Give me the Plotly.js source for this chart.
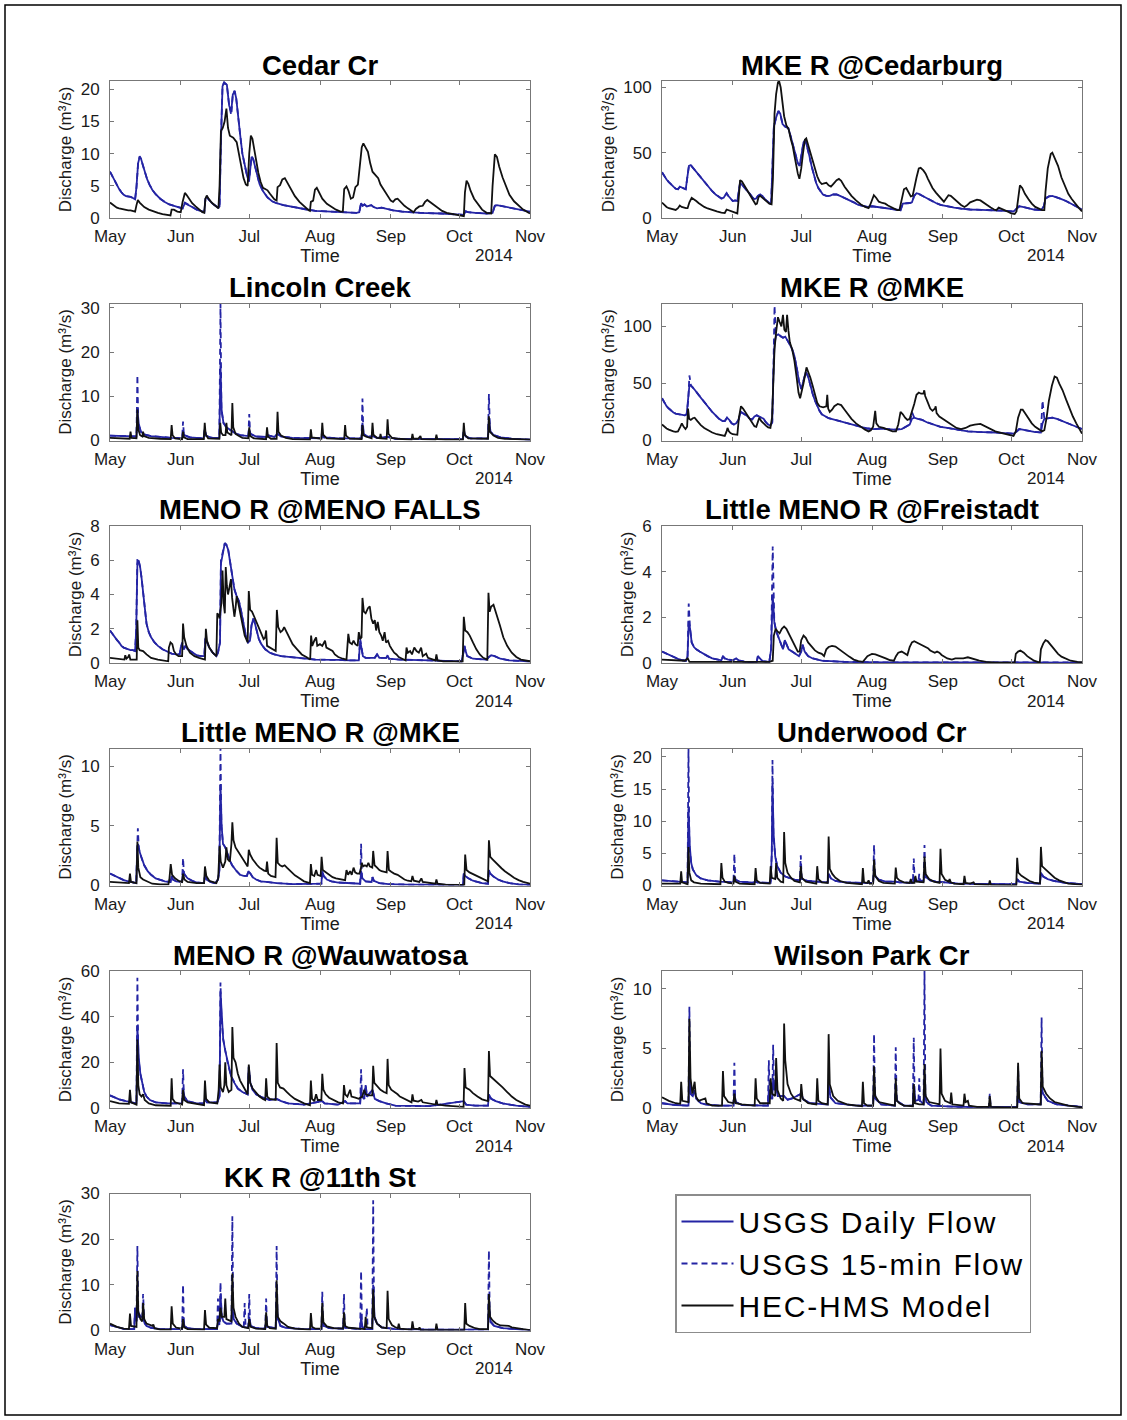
<!DOCTYPE html>
<html>
<head>
<meta charset="utf-8">
<script src="https://cdn.plot.ly/plotly-3.0.1.min.js"></script>
<style>html,body{margin:0;padding:0;background:#fff;}#chart{width:1127px;height:1420px;}
.legendtext{letter-spacing:1.8px;}</style>
</head>
<body>
<div id="chart"></div>
<script>
// ---------- DATA (day since 1 May 2014, discharge m3/s) ----------
const monthLabels = ['May','Jun','Jul','Aug','Sep','Oct','Nov'];
const monthStartDays = [0,31,61,92,123,153,184];
const stationNames = ['Cedar Cr','MKE R @Cedarburg','Lincoln Creek','MKE R @MKE','MENO R @MENO FALLS','Little MENO R @Freistadt','Little MENO R @MKE','Underwood Cr','MENO R @Wauwatosa','Wilson Park Cr','KK R @11th St'];
const yMax = [21.3,105,31,120,8,6,11.5,21.3,60,11.5,30];
const yTickStep = [5,50,10,50,2,2,5,5,20,5,10];
const seriesNames = ['USGS Daily Flow','USGS 15-min Flow','HEC-HMS Model'];

const cedarDaily = [[0,7.2],[1,6.5],[2,5.8],[3,5.2],[4,4.5],[5,4.0],[6,3.6],[7,3.4],[8,3.4],[9,3.3],[10,3.1],[11,2.9],[11.6,4.8],[12.3,8.5],[13,9.5],[13.6,9.2],[14.4,8.2],[15.3,7.0],[16.3,6.0],[17.3,5.2],[18.5,4.4],[20,3.7],[22,3.0],[24,2.5],[26,2.1],[28,1.9],[30,1.7],[31.8,1.5],[32.8,2.3],[34,2.1],[36,1.7],[38,1.3],[40,1.0],[41.3,0.9],[41.8,3.0],[42.4,3.3],[43.2,2.9],[45,2.2],[47.5,1.6],[48,1.8],[48.6,12],[49.3,20.5],[50,21],[51.2,20.7],[52.2,17.5],[53.1,16.5],[53.8,19.2],[54.6,19.7],[55.3,18.6],[56,16],[57,13],[58,10],[59,8],[60,6.6],[60.9,5.7],[61.3,7],[62,9.5],[62.7,9.2],[63.5,8],[64.5,6.5],[65.5,5.3],[67,4.2],[69,3.2],[71,2.6],[73,2.3],[76,2.0],[80,1.7],[85,1.4],[90,1.1],[95,1.0],[100,0.9],[105,0.8],[108,0.8],[109.2,0.9],[110,2.3],[110.7,1.9],[111.5,2.1],[112.5,1.8],[113.5,1.9],[114.5,2.0],[115.5,1.7],[117,1.5],[119,1.6],[121,1.4],[124,1.2],[128,1.0],[132,0.9],[136,0.8],[145,0.7],[150,0.6],[155,0.5],[155.8,1.0],[156.8,0.9],[160,0.8],[165,0.7],[167.6,0.8],[168.6,1.9],[169.5,2.0],[171,1.9],[174,1.6],[177,1.4],[180,1.2],[184,1.0]];
const cedarQ15 = [[0,7.2],[1,6.5],[2,5.8],[3,5.2],[4,4.5],[5,4.0],[6,3.6],[7,3.4],[8,3.4],[9,3.3],[10,3.1],[11,2.9],[11.6,4.8],[12.3,8.5],[13,9.6],[13.6,9.2],[14.4,8.2],[15.3,7.0],[16.3,6.0],[17.3,5.2],[18.5,4.4],[20,3.7],[22,3.0],[24,2.5],[26,2.1],[28,1.9],[30,1.7],[31.8,1.5],[32.8,2.4],[34,2.1],[36,1.7],[38,1.3],[40,1.0],[41.3,0.9],[41.8,3.0],[42.4,3.4],[43.2,2.9],[45,2.2],[47.5,1.6],[48,1.8],[48.6,12],[49.3,20.6],[50,21.1],[51.2,20.7],[52.2,17.5],[53.1,16.0],[53.8,19.2],[54.6,19.8],[55.3,18.6],[56,16],[57,13],[58,10],[59,8],[60,6.6],[60.9,5.7],[61.3,7],[62,9.6],[62.7,9.2],[63.5,8],[64.5,6.5],[65.5,5.3],[67,4.2],[69,3.2],[71,2.6],[73,2.3],[76,2.0],[80,1.7],[85,1.4],[90,1.1],[95,1.0],[100,0.9],[105,0.8],[108,0.8],[109.2,0.9],[110,2.4],[110.7,1.9],[111.5,2.1],[112.5,1.8],[113.5,1.9],[114.5,2.0],[115.5,1.7],[117,1.5],[119,1.6],[121,1.4],[124,1.2],[128,1.0],[132,0.9],[136,0.8],[145,0.7],[150,0.6],[155,0.5],[155.8,1.1],[156.8,0.9],[160,0.8],[165,0.7],[167.6,0.8],[168.6,1.9],[169.5,2.0],[171,1.9],[174,1.6],[177,1.4],[180,1.2],[184,1.0]];
const cedarModel = [[0,2.4],[1,2.1],[2,1.8],[3,1.6],[4,1.5],[5,1.4],[6,1.3],[7,1.3],[8,1.2],[9,1.2],[10,1.1],[11,1.0],[11.6,2.0],[12.2,2.8],[13,2.4],[14,2.0],[15,1.7],[17,1.3],[19,1.0],[21,0.8],[23,0.6],[25,0.5],[26.5,0.4],[27,1.3],[28,1.3],[29.5,1.0],[31,0.9],[31.8,2.5],[32.8,3.9],[33.5,3.6],[34.5,3.0],[36,2.3],[37.5,1.8],[39,1.3],[40.5,0.9],[41.3,0.8],[41.8,3.0],[42.4,3.5],[43,3.1],[44.5,2.4],[46,1.9],[47.5,1.5],[48,5],[48.6,13.5],[49.4,14],[50.2,15],[51,17],[51.7,14],[52.5,12.8],[54,12.5],[55.5,11.8],[56.5,10],[57.5,8],[58.5,6.2],[59.5,5.2],[60.3,5],[61,10],[61.7,12.8],[62.4,12.3],[63.2,10.5],[64,8.5],[65,7],[66,5.6],[67,4.7],[68,4.5],[69,4.3],[70,3.8],[71,3.3],[72,2.9],[73,2.7],[73.4,4.8],[74.5,5.1],[75.5,6.0],[76.6,6.2],[77.5,5.6],[79,4.5],[81,3.4],[83,2.5],[85,1.8],[87,1.2],[87.6,1.1],[88,2.5],[89,2.7],[89.8,4.4],[90.6,4.7],[91.5,4.0],[93,3.0],[95,2.2],[97,1.7],[99,1.3],[101,1.0],[102,1.0],[102.6,4.5],[103.6,4.9],[104.5,4.2],[105.5,3.0],[106.5,3.2],[107.5,4.8],[108.6,5.2],[109.5,8.5],[110.3,11],[111,11.6],[112,11],[113,10.3],[114,8.5],[115,7.2],[116.5,6.6],[117.5,6.2],[118.5,5.2],[120,4.3],[121.5,3.4],[123,2.7],[124,2.5],[125,2.9],[126,3.0],[127.5,2.4],[129,1.9],[130.5,1.5],[132,1.1],[133,0.9],[134,1.4],[135.5,1.8],[137,1.9],[138,2.5],[139,2.8],[140.5,2.4],[142,2.0],[143.5,1.5],[145.5,1.1],[147.5,0.8],[150,0.6],[153,0.4],[155,0.3],[155.5,4],[156.2,5.8],[157,5.3],[158,4.2],[159.5,3.0],[161,2.2],[163,1.3],[165,0.8],[167,0.7],[167.6,5],[168.6,9.9],[169.5,9.5],[170.5,8],[172,6.3],[173.5,4.8],[175,3.6],[177,2.6],[179,1.9],[181,1.3],[183,0.9],[184,0.7]];

const cedarburgDaily = [[0,35],[1,32],[2,29.5],[3,27.5],[4,25.5],[5,24],[6,22.5],[7,22],[7.8,24],[8.6,23.5],[9.6,22.5],[10.4,22],[11,30],[11.8,40],[12.6,40.5],[13.5,38.5],[14.5,36.5],[16,33.5],[17.5,30],[19,26.5],[20.5,23.5],[22,20.5],[23.5,18],[25,16],[26,15],[27,15.5],[28.3,19],[29,17],[30,14.5],[31,13],[32,13.5],[33,13],[33.6,20],[34.2,27],[35,25.5],[36.3,23],[37.5,21],[38.5,18.5],[39.5,16],[40.5,14.5],[41.3,15],[42,17],[43,18],[44,17],[45,14.5],[46,13],[47,11.5],[47.8,10.5],[48.4,40],[49,70],[50,77],[51,82],[51.8,80],[52.8,72],[54,70],[55.3,69],[56.3,63],[57.5,55],[58.5,48],[59.5,42],[60.3,40],[61,48],[62,58],[62.8,60],[63.6,55],[64.5,48],[65.5,40],[66.5,33],[67.5,27],[68.5,23],[69.5,20],[70.5,18],[72,17],[73.5,17],[75,18],[76.5,18],[78,17],[80,15.5],[82,14],[84,12],[86,10],[88,9],[90,8.5],[92,9],[94,8.5],[97,8],[100,7],[103,6],[104.5,6],[105.5,11],[107,11],[108.5,11.5],[109.5,12],[110.5,17],[111.5,19],[112.5,18.5],[114,17],[116,15],[118,13],[120,11.5],[122,10],[125,8.8],[128,8],[131,7.2],[135,6.5],[140,6.3],[146,6],[150,5.5],[154,5],[155.5,7],[156.5,9],[158,8.5],[160,7.5],[163,6.5],[166,6],[167.3,9],[168,15],[169.5,16.5],[171,17],[173,16],[175,14.5],[177,13],[179,11],[181,9],[184,6.5]];
const cedarburgQ15 = [[0,35],[1,32],[2,29.5],[3,27.5],[4,25.5],[5,24],[6,22.5],[7,22],[7.8,24],[8.6,23.5],[9.6,22.5],[10.4,22],[11,30],[11.8,40],[12.6,40.5],[13.5,38.5],[14.5,36.5],[16,33.5],[17.5,30],[19,26.5],[20.5,23.5],[22,20.5],[23.5,18],[25,16],[26,15],[27,15.5],[28.3,19],[29,17],[30,14.5],[31,13],[32,13.5],[33,13],[33.6,20],[34.2,27],[35,25.5],[36.3,23],[37.5,21],[38.5,18.5],[39.5,16],[40.5,14.5],[41.3,15],[42,17],[43,18],[44,17],[45,14.5],[46,13],[47,11.5],[47.8,10.5],[48.4,40],[49,70],[50,77],[51,82],[51.8,80],[52.8,72],[54,70],[55.3,69],[56.3,63],[57.5,55],[58.5,48],[59.5,42],[60.3,40],[61,48],[62,58],[62.8,60],[63.6,55],[64.5,48],[65.5,40],[66.5,33],[67.5,27],[68.5,23],[69.5,20],[70.5,18],[72,17],[73.5,17],[75,18],[76.5,18],[78,17],[80,15.5],[82,14],[84,12],[86,10],[88,9],[90,8.5],[92,9],[94,8.5],[97,8],[100,7],[103,6],[104.5,6],[105.5,11],[107,11],[108.5,11.5],[109.5,12],[110.5,17],[111.5,19],[112.5,18.5],[114,17],[116,15],[118,13],[120,11.5],[122,10],[125,8.8],[128,8],[131,7.2],[135,6.5],[140,6.3],[146,6],[150,5.5],[154,5],[155.5,7],[156.5,9],[158,8.5],[160,7.5],[163,6.5],[166,6],[167.3,9],[168,15],[169.5,16.5],[171,17],[173,16],[175,14.5],[177,13],[179,11],[181,9],[184,6.5]];
const cedarburgModel = [[0,11.8],[1,10],[2,8.5],[3,7.5],[4,7],[5,6.5],[6,6.2],[7,7.5],[7.8,9.5],[8.6,8.5],[9.6,7.8],[10.5,7.5],[11.2,7.5],[12,12],[13,15.5],[14,14.5],[15,13],[16,11.5],[17,10],[18.5,8.5],[20,7.3],[22,6],[24,5],[26,4.2],[27.5,3.8],[28.3,6.5],[29,6],[30,5.5],[31,4.5],[32,4],[33,3.5],[33.6,15],[34.2,29],[35,28],[36,25],[37,22],[38,19],[39,15.5],[40,13],[41,10.5],[41.6,11],[42.3,16],[43,17],[44,15.5],[45,13.5],[46,12],[47,11],[48,10.5],[48.6,30],[49.3,80],[50,95],[50.8,104],[51.3,105],[52,100],[52.8,88],[53.5,78],[54.5,71],[55.5,68],[56.5,60],[57.3,55],[58,48],[58.8,40],[59.5,34],[60.2,30],[61,38],[61.8,50],[62.6,60],[63.2,61],[64,56],[65,50],[66,43],[67,37],[68,32],[69,28],[70,26],[71,26.5],[72,27],[73,25],[74,24],[75,26],[76.5,29],[77.5,30],[78.5,28.5],[80,24],[81.5,20],[83,17],[85,13.5],[87,10.5],[89,8.5],[90.5,7.5],[91.2,10],[92,14],[92.8,17.5],[93.8,15.5],[95,12.5],[96.5,11.5],[97.8,11],[99,9.5],[100.5,8],[102,7],[103,6],[104,6],[105,13],[106,22],[107,23],[108,19.5],[109,16.5],[109.8,17],[110.6,25],[111.5,31],[112.5,38],[113.3,38.5],[114.5,36.5],[115.5,34],[116.5,30],[117.5,26],[118.5,23],[120,19.5],[121.5,16.5],[122.5,14],[123.5,12.5],[124.5,15],[125.5,17.5],[126.5,17],[128,14.5],[129.5,12.5],[131,10],[132.5,8.5],[133.5,9.5],[135,12],[136.5,13],[138,14],[139.5,13.5],[141,11.5],[142.5,9.5],[144,8],[145.5,6.5],[146.5,6],[147.5,8],[149,7],[150.5,5.5],[152,4.5],[153,3.5],[154.5,3],[155.3,5],[156,15],[156.8,25],[157.8,23],[159,18.5],[160.5,14.5],[162,11],[163.5,8.5],[165,7],[166.5,6],[167.5,6],[168,20],[169,38],[170.3,49],[171,50],[172,46],[173.5,40],[175,31],[176.5,24],[178,18.5],[179.5,14.5],[181,11],[182.5,8],[184,5]];

const lincolnDaily = [[0,1.1],[5,1.0],[9,0.9],[11.6,0.9],[12,7],[12.5,4],[13.5,2],[15,1.4],[18,1],[22,0.8],[27,0.6],[31.6,0.5],[32,2],[32.6,1.2],[35,0.7],[41,0.5],[41.5,2.5],[42.2,1],[45,0.6],[47.9,0.6],[48.4,17],[48.9,7],[49.7,4],[51,3],[53,2.2],[55,1.6],[57,1.2],[60.6,1],[61,2.5],[61.6,1.5],[64,0.9],[68.8,0.8],[69.2,1.2],[72,0.8],[73.4,1.5],[75,0.9],[80,0.6],[88,0.5],[92.6,0.5],[93,1.5],[94,0.7],[100,0.5],[110.2,0.5],[110.6,4],[111.2,1.5],[113,0.8],[115,1],[117,0.6],[121.6,0.8],[125,0.4],[140,0.3],[154.6,0.3],[155,2],[155.8,0.9],[158,0.5],[165.6,0.5],[166,5],[166.7,2],[168,1.3],[171,0.7],[176,0.4],[184,0.2]];
const lincolnQ15 = [[0,1.1],[5,1.0],[9,0.9],[11.6,0.9],[12,14.8],[12.4,4],[13.5,2],[15,1.4],[18,1],[22,0.8],[27,0.6],[31.6,0.5],[32,4.3],[32.4,1.2],[35,0.7],[41,0.5],[41.5,2.5],[42.2,1],[45,0.6],[47.9,0.6],[48.4,31],[48.8,7],[49.7,4],[51,3],[53,2.2],[55,1.6],[57,1.2],[60.6,1],[61,6],[61.4,1.5],[64,0.9],[68.8,0.8],[69.2,1.2],[72,0.8],[73.4,1.5],[75,0.9],[80,0.6],[88,0.5],[92.6,0.6],[93,2.5],[93.4,0.7],[100,0.5],[110.2,0.5],[110.6,9.5],[111,1.5],[113,0.8],[115,1],[117,0.6],[121.6,0.8],[125,0.4],[140,0.3],[154.6,0.3],[155,2.8],[155.5,0.9],[158,0.5],[165.6,0.5],[166,10.5],[166.5,2],[168,1.3],[171,0.7],[176,0.4],[184,0.2]];
const lincolnModel = [[0,0.6],[4,0.5],[8.6,0.4],[9,2],[9.4,0.6],[11.6,0.5],[12,7],[12.4,2.5],[13.2,1.2],[14.2,0.9],[14.5,2],[14.9,1],[17,0.6],[22,0.4],[26.6,0.3],[27,3.5],[27.4,1.2],[28.5,0.5],[31.6,0.3],[32,2],[32.4,0.7],[34,0.3],[41.1,0.3],[41.5,4],[41.9,1.4],[43,0.5],[47.9,0.4],[48.3,4],[48.7,1.8],[49.5,1.2],[50.6,1.2],[51,4],[51.4,1.8],[53.2,1.2],[53.6,8.5],[54,3],[55,1.5],[56.5,1],[58,0.6],[60.6,0.5],[61,3],[61.4,1],[63,0.5],[68.4,0.3],[68.8,3],[69.2,0.9],[70.5,0.4],[73,0.4],[73.4,6.5],[73.8,2],[75,1.1],[77,0.6],[80,0.3],[87.6,0.2],[88,2.5],[88.4,0.7],[89.5,0.6],[92.6,0.4],[93,4],[93.4,1.3],[95,0.5],[102.6,0.3],[103,3.5],[103.4,1.1],[105,0.4],[110.2,0.3],[110.6,3.5],[111,1.2],[112,0.9],[114.6,0.5],[115,4],[115.4,1.3],[117,0.6],[118.2,0.5],[118.5,1.5],[118.9,0.5],[121.2,0.4],[121.6,4.8],[122,1.5],[123.5,0.6],[126,0.4],[132.1,0.2],[132.5,1.5],[132.9,0.4],[135,0.4],[136,1],[136.4,0.3],[142.6,0.2],[143,1.3],[143.4,0.3],[147,0.2],[154.6,0.2],[155,4],[155.4,1.3],[157,0.5],[165.6,0.4],[166,5.5],[166.4,2],[168,1.1],[170,0.6],[173,0.4],[184,0.2]];

const mkeDaily = [[0,37],[1,33],[2,30],[3,28],[4,26],[5,24.5],[6,23.5],[7,23],[8,22.5],[9,22],[10,22],[10.8,23],[11.5,35],[12,48],[12.7,48],[13.5,46.5],[14.5,44],[16,40],[17.5,36],[19,32],[20.5,28.5],[22,25],[23.5,22],[25,19],[26.5,17],[27.5,17],[28.5,20],[29.5,18],[30.5,15],[31.5,14],[32.5,15],[33.5,18],[34.5,25],[35.5,24],[37,22],[38.5,19],[39.5,18.5],[40.5,21],[41.5,22],[42.5,21],[43.5,20],[44.5,19],[45.5,16],[46.5,14],[47.5,13],[48.3,16],[48.8,60],[49.3,85],[50,92],[51,93],[52,91],[53,90],[54,91],[55,88],[56,84],[57,80],[58,74],[59,64],[60,52],[61,45],[62,52],[63,60],[64,56],[65,48],[66,41],[67,35],[68,30],[69,26],[70,23],[71.5,21],[73,19.5],[75,18.5],[78,17],[81,15],[84,13.5],[87,12],[90,10.5],[93,10],[96,10.5],[99,10],[102,9.5],[105,10],[107,12],[108.5,14],[109.5,19],[110.5,20],[112,19],[114,18],[116,16],[118,14.5],[120,13],[122,12],[125,11],[128,10],[131,9],[134,8],[138,7.5],[142,7.5],[146,7],[150,6.5],[154,6],[155.5,8],[156.5,10],[158,9.5],[160,8.5],[163,7.5],[166,7],[166.7,15],[167.5,19],[169,19.5],[171,20],[173,19],[175,17.5],[177,16],[179,14],[181,12.5],[184,10]];
const mkeQ15 = [[0,37],[1,33],[2,30],[3,28],[4,26],[5,24.5],[6,23.5],[7,23],[8,22.5],[9,22],[10,22],[10.8,23],[11.5,35],[12,57],[12.7,48],[13.5,46.5],[14.5,44],[16,40],[17.5,36],[19,32],[20.5,28.5],[22,25],[23.5,22],[25,19],[26.5,17],[27.5,17],[28.5,20],[29.5,18],[30.5,15],[31.5,14],[32.5,15],[33.5,18],[34.5,25],[35.5,24],[37,22],[38.5,19],[39.5,18.5],[40.5,21],[41.5,22],[42.5,21],[43.5,20],[44.5,19],[45.5,16],[46.5,14],[47.5,13],[48.3,16],[48.8,60],[49.3,118],[49.8,95],[51,93],[52,91],[53,90],[54,91],[55,88],[56,84],[57,80],[58,74],[59,64],[60,52],[61,45],[62,52],[63,60],[64,56],[65,48],[66,41],[67,35],[68,30],[69,26],[70,23],[71.5,21],[73,19.5],[75,18.5],[78,17],[81,15],[84,13.5],[87,12],[90,10.5],[93,10],[96,10.5],[99,10],[102,9.5],[105,10],[107,12],[108.5,14],[109.5,25],[110.5,20],[112,19],[114,18],[116,16],[118,14.5],[120,13],[122,12],[125,11],[128,10],[131,9],[134,8],[138,7.5],[142,7.5],[146,7],[150,6.5],[154,6],[155.5,8],[156.5,10],[158,9.5],[160,8.5],[163,7.5],[166,7],[166.7,35],[167.5,19],[169,19.5],[171,20],[173,19],[175,17.5],[177,16],[179,14],[181,12.5],[184,10]];
const mkeModel = [[0,14],[1,12],[2,10.5],[3,9.5],[4,8.5],[5,8],[6,7.5],[7,8],[8,12],[8.7,15],[9.5,12],[10.3,10],[11,12],[11.4,28],[11.9,19],[12.6,18],[13.5,19.5],[14.3,20],[15.5,17],[17,13.5],[18.5,11],[20,9],[22,7],[24,5.5],[26,4.5],[27.5,4],[28.3,8],[28.7,11],[29.3,8],[30,6.5],[31,5.5],[32,5],[33,5],[33.7,20],[34.6,30],[35.5,28],[36.5,25],[37.5,21],[38.5,18],[39.5,15],[40.5,12.5],[41.3,12],[42,17],[42.6,20],[43.5,17],[44.4,15],[45.5,13],[46.5,11.5],[47.5,11],[48.2,20],[48.7,50],[49.3,80],[50,95],[50.8,108],[51.5,104],[52.3,100],[53,110],[53.6,97],[54.3,95],[54.8,110],[55.4,96],[56,86],[57,80],[58,70],[59,55],[59.8,42],[60.5,37],[61.2,42],[62,50],[63.3,64],[64.2,60],[65,55],[66,48],[67,40],[68,33],[69,30],[70.6,29],[72,30],[72.4,40],[72.8,28],[73.5,25],[74.5,27],[75.5,30],[77,32],[78.5,31],[80,27],[81.5,23],[83,19],[85,15],[87,12],[89,9.5],[90.5,8],[91.5,9],[92.5,12],[93.4,26],[93.9,15],[95,12],[97,11],[99,9.5],[101,8],[102.5,8],[103.5,14],[104.5,25],[105.5,23],[106.5,20],[107.5,18],[108.5,19],[109.5,25],[110.5,32],[111.5,40],[112.5,42],[113.5,41],[114.5,41],[114.9,44],[115.3,39],[116.3,34],[117.5,28],[118.5,26],[119.6,28],[119.9,30],[120.3,24],[121.5,21],[123,19],[124,17],[125.5,15],[127,13.5],[129,11],[131,10],[133,11],[135,13],[137,14],[139.5,14.5],[141,13],[142.5,11],[144,9.5],[146,8],[148,7],[150,6],[152,5],[154,4],[155,8],[156,20],[157.2,27],[158,27],[159,24],[160.5,19],[162,15],[163.5,12],[165,10],[166.5,8],[167.5,9],[168.5,20],[169.5,35],[170.8,48],[172,56],[173,55],[174,50],[175.5,44],[177,36],[178.5,28],[180,21],[181.5,15],[183,9],[184,6]];

const menoFallsDaily = [[0,1.9],[1,1.7],[2,1.5],[3,1.35],[4,1.2],[5,1.0],[6,0.9],[7,0.85],[8,0.8],[9,0.75],[10,0.75],[11,0.7],[11.5,2],[12,5.8],[12.5,6.0],[13.2,5.6],[13.8,5.0],[14.5,4.0],[15.2,3.0],[16,2.3],[17,1.8],[18,1.5],[19.5,1.2],[21,1.0],[23,0.8],[25,0.65],[27,0.55],[29,0.5],[30.5,0.5],[31,0.9],[31.6,1.1],[32.3,0.8],[33,1.0],[34,0.8],[36,0.6],[38,0.45],[40,0.4],[41.3,0.4],[41.8,1.4],[42.5,1.2],[43.5,0.9],[45,0.6],[46.6,0.4],[47.3,0.6],[48.2,1.2],[48.6,5.8],[49.4,6.5],[50.3,7.0],[51,6.9],[51.8,6.6],[52.5,6.0],[53.5,5.0],[54.5,4.3],[55.5,3.9],[56.5,3.6],[57.5,3.0],[58.5,2.2],[59.5,1.6],[60.5,1.2],[61.3,1.3],[62,2.2],[62.8,2.6],[63.5,2.3],[64.3,1.8],[65.2,1.4],[66.3,1.1],[68,0.8],[70,0.6],[72,0.5],[75,0.4],[78,0.35],[82,0.3],[86,0.25],[90,0.2],[95,0.2],[100,0.18],[105,0.15],[109,0.15],[109.6,1.3],[110.2,0.9],[110.8,0.4],[112,0.3],[116,0.3],[117,0.5],[118,0.3],[121,0.3],[121.6,0.45],[122.2,0.25],[127,0.2],[140,0.15],[150,0.12],[154,0.1],[154.8,0.6],[155.3,1.0],[155.8,0.7],[156.5,0.4],[159,0.25],[165,0.2],[166,0.35],[167,0.45],[168.5,0.4],[171,0.25],[175,0.15],[184,0.1]];
const menoFallsQ15 = [[0,1.9],[1,1.7],[2,1.5],[3,1.35],[4,1.2],[5,1.0],[6,0.9],[7,0.85],[8,0.8],[9,0.75],[10,0.75],[11,0.7],[11.5,2],[12,6.1],[12.5,6.0],[13.2,5.6],[13.8,5.0],[14.5,4.0],[15.2,3.0],[16,2.3],[17,1.8],[18,1.5],[19.5,1.2],[21,1.0],[23,0.8],[25,0.65],[27,0.55],[29,0.5],[30.5,0.5],[31,0.9],[31.6,1.2],[32.3,0.8],[33,1.0],[34,0.8],[36,0.6],[38,0.45],[40,0.4],[41.3,0.4],[41.8,1.5],[42.5,1.2],[43.5,0.9],[45,0.6],[46.6,0.4],[47.3,0.6],[48.2,1.2],[48.6,6.0],[49.4,6.5],[50.3,7.0],[51,6.9],[51.8,6.6],[52.5,6.0],[53.5,5.0],[54.5,4.3],[55.5,3.9],[56.5,3.6],[57.5,3.0],[58.5,2.2],[59.5,1.6],[60.5,1.2],[61.3,1.3],[62,2.2],[62.8,2.6],[63.5,2.3],[64.3,1.8],[65.2,1.4],[66.3,1.1],[68,0.8],[70,0.6],[72,0.5],[75,0.4],[78,0.35],[82,0.3],[86,0.25],[90,0.2],[95,0.2],[100,0.18],[105,0.15],[109,0.15],[109.6,1.4],[110.2,0.9],[110.8,0.4],[112,0.3],[116,0.3],[117,0.5],[118,0.3],[121,0.3],[121.6,0.45],[122.2,0.25],[127,0.2],[140,0.15],[150,0.12],[154,0.1],[154.8,0.6],[155.3,1.0],[155.8,0.7],[156.5,0.4],[159,0.25],[165,0.2],[166,0.35],[167,0.45],[168.5,0.4],[171,0.25],[175,0.15],[184,0.1]];
const menoFallsModel = [[0,0.3],[3,0.25],[6.3,0.2],[6.7,0.45],[7.2,0.25],[8,0.35],[8.4,0.5],[8.9,0.2],[11,0.2],[11.7,0.2],[12,2.5],[12.4,0.9],[13,0.75],[14.5,0.7],[16,0.5],[18,0.3],[21,0.2],[25.5,0.1],[25.8,0.9],[26.5,1.2],[27.3,1.1],[28,0.7],[29,0.5],[30,0.4],[31.6,0.4],[32,2.3],[32.5,1.5],[33.5,1.0],[35,0.6],[37,0.4],[39,0.3],[41.6,0.2],[42,2.0],[42.5,1.3],[43.5,0.9],[45,0.6],[46.6,0.4],[47,2.9],[47.6,2.8],[48,2.6],[48.3,3.0],[48.8,3.5],[49.3,5.4],[49.8,3.5],[50.3,2.9],[50.7,5.6],[51.2,4.5],[51.7,4.0],[52.3,4.4],[53,4.9],[53.5,3.8],[54,3.0],[54.5,2.7],[55,3.2],[55.5,3.9],[56.2,3.5],[57,2.9],[58,2.2],[59,1.6],[60.3,1.2],[60.8,4.2],[61.4,3.1],[62.2,3.0],[63.2,2.7],[64.2,2.4],[65.2,2.0],[66.2,1.7],[67.3,1.4],[68,1.5],[68.4,1.9],[68.8,1.0],[70,0.9],[71.5,0.8],[72.6,0.7],[73.1,3.1],[73.7,2.1],[74.7,1.8],[75.6,1.9],[76.3,2.1],[77.3,1.8],[78.5,1.5],[80,1.1],[82,0.8],[84,0.5],[86,0.35],[87.7,0.2],[88.1,1.6],[88.6,1.0],[89.5,1.3],[90.3,1.5],[90.8,1.0],[92,1.1],[93,1.0],[94.2,1.3],[94.8,0.9],[96,0.8],[97.5,0.7],[98.5,0.5],[100,0.35],[102,0.25],[103.6,0.2],[104.4,1.7],[105,1.2],[106,1.1],[106.7,1.3],[107.5,1.1],[108.5,1.0],[109,1.8],[109.6,1.4],[110.2,1.5],[110.6,3.8],[111.2,3.0],[112,2.9],[113,3.2],[113.8,3.3],[114.5,2.6],[115.3,2.3],[116,2.5],[116.6,1.9],[117.3,2.4],[118,1.8],[118.8,1.6],[119.5,1.3],[120.3,1.8],[120.9,1.2],[121.8,1.3],[122.6,1.0],[123.5,0.8],[124.5,0.6],[125.5,0.5],[126.5,0.35],[128,0.25],[129.5,0.15],[129.9,0.9],[130.5,0.6],[131.5,0.7],[132.3,0.5],[133.3,0.9],[134.3,0.7],[135.3,0.6],[136.3,0.9],[137,0.4],[138.5,0.55],[139.3,0.3],[141,0.2],[142.6,0.15],[143,0.5],[143.5,0.15],[146,0.1],[150,0.08],[154.5,0.1],[155,2.7],[155.6,1.9],[156.6,1.8],[157.6,1.6],[159,1.2],[160.5,0.8],[162,0.5],[163.5,0.3],[165.3,0.2],[165.8,4.1],[166.3,3.0],[167,3.3],[168,3.4],[169.3,2.9],[170.8,2.2],[172.3,1.5],[174,1.0],[176,0.6],[178,0.35],[180,0.2],[184,0.1]];

const freistadtDaily = [[0,0.5],[1,0.45],[2,0.4],[3,0.35],[5,0.25],[7,0.18],[9,0.12],[10.5,0.1],[11.2,0.3],[11.7,1.8],[12.3,1.5],[13,0.9],[14,0.7],[15,0.6],[16.5,0.5],[18,0.4],[20,0.3],[22,0.2],[24,0.15],[26,0.12],[26.7,0.28],[27.5,0.2],[29,0.15],[31,0.12],[32.5,0.2],[33.5,0.12],[36.5,0.05],[41.5,0.05],[42,0.3],[42.8,0.2],[44,0.08],[47,0.05],[47.8,0.6],[48.5,3.0],[49.2,1.8],[50,1.4],[51,1.1],[52,0.8],[53,0.6],[53.8,1.0],[54.5,0.8],[55.5,0.6],[57,0.5],[58.5,0.4],[60,0.3],[61,0.5],[61.6,0.8],[62.5,0.5],[64,0.3],[66,0.2],[70,0.1],[80,0.05],[98,0.03],[184,0.02]];
const freistadtQ15 = [[0,0.5],[1,0.45],[2,0.4],[3,0.35],[5,0.25],[7,0.18],[9,0.12],[10.5,0.1],[11.2,0.3],[11.7,2.6],[12.3,1.5],[13,0.9],[14,0.7],[15,0.6],[16.5,0.5],[18,0.4],[20,0.3],[22,0.2],[24,0.15],[26,0.12],[26.7,0.3],[27.5,0.2],[29,0.15],[31,0.12],[32.5,0.2],[33.5,0.12],[36.5,0.05],[41.5,0.05],[42,0.3],[42.8,0.2],[44,0.08],[47,0.05],[47.8,0.6],[48.5,5.1],[49.2,1.8],[50,1.4],[51,1.1],[52,0.8],[53,0.6],[53.8,1.0],[54.5,0.8],[55.5,0.6],[57,0.5],[58.5,0.4],[60,0.3],[61,0.5],[61.6,0.8],[62.5,0.5],[64,0.3],[66,0.2],[70,0.1],[80,0.05],[98,0.03],[184,0.02]];
const freistadtModel = [[0,0.15],[5,0.12],[10,0.1],[11.3,0.2],[12,0.05],[47,0.05],[48.5,0.1],[49,1.2],[49.8,1.5],[50.5,1.4],[51.5,1.3],[52.5,1.5],[53.5,1.6],[54.5,1.5],[55.5,1.3],[56.5,1.1],[57.5,0.9],[58.5,0.7],[59.5,0.5],[60.3,0.5],[61,1.0],[62,1.2],[63,1.1],[64,0.9],[65.5,0.7],[67,0.55],[68.5,0.45],[70,0.4],[71,0.3],[72,0.6],[73,0.7],[74.5,0.75],[76,0.72],[77.5,0.6],[79,0.5],[80.5,0.4],[82,0.28],[84,0.15],[86,0.08],[88,0.05],[89,0.2],[90,0.3],[91,0.35],[92,0.4],[93.5,0.38],[95,0.33],[96.5,0.25],[98,0.2],[100,0.12],[101.6,0.1],[102.5,0.3],[103.5,0.45],[105,0.5],[106.5,0.4],[107.5,0.35],[108.5,0.7],[109.5,0.9],[110.5,0.95],[111.5,0.9],[112.5,0.85],[113.5,0.8],[114.5,0.75],[115.5,0.7],[116.5,0.65],[117.5,0.55],[118.5,0.5],[119.5,0.45],[120.5,0.5],[121.5,0.45],[122.5,0.35],[123.5,0.3],[125,0.2],[127,0.15],[128.5,0.2],[130,0.2],[132,0.2],[134,0.25],[135.5,0.2],[137,0.15],[139,0.1],[142,0.05],[146,0.02],[154.5,0.02],[155,0.4],[156,0.5],[157,0.55],[158.5,0.45],[160,0.3],[161.5,0.2],[163,0.1],[165.5,0.02],[166,0.6],[167,0.85],[168,1.0],[169,0.95],[170.5,0.75],[172,0.55],[173.5,0.4],[175,0.28],[177,0.18],[179,0.1],[182,0.05],[184,0.04]];

const littleMenoDaily = [[0,1.0],[2,0.8],[4,0.6],[6,0.45],[8,0.35],[10,0.25],[11.5,0.2],[11.9,3.0],[12.3,3.5],[13,2.8],[14,2.2],[15,1.7],[16.5,1.2],[18,0.9],[20,0.6],[22,0.45],[24,0.35],[26.5,0.3],[27,0.8],[27.6,0.5],[29,0.35],[31.6,0.3],[32,1.3],[32.7,0.9],[34,0.6],[36,0.4],[38,0.25],[41.2,0.2],[41.6,0.8],[42.3,0.5],[44,0.3],[46,0.2],[47.3,0.5],[47.9,1.2],[48.4,8.5],[48.9,5],[49.5,3.5],[50.5,3.2],[51.5,2.6],[52.5,2.1],[53.5,1.7],[54.5,1.4],[55.5,1.2],[57,0.9],[58.5,0.8],[60,0.8],[60.6,1.2],[61.5,1.0],[62.5,0.7],[64,0.5],[66,0.35],[68.4,0.3],[70,0.25],[73,0.2],[80,0.12],[88,0.1],[92.6,0.15],[93,1.2],[93.6,0.8],[95,0.5],[97,0.35],[100,0.25],[103,0.2],[106,0.15],[109.6,0.15],[110,1.2],[110.6,0.6],[112,0.35],[114.6,0.3],[115,0.7],[115.6,0.4],[118,0.2],[122,0.12],[130,0.08],[154.6,0.05],[155,1.0],[155.6,0.8],[157,0.6],[159,0.4],[161,0.3],[163,0.2],[165.6,0.15],[166,1.3],[166.6,1.0],[168,0.75],[170,0.5],[172,0.35],[175,0.2],[179,0.1],[184,0.05]];
const littleMenoQ15 = [[0,1.0],[2,0.8],[4,0.6],[6,0.45],[8,0.35],[10,0.25],[11.5,0.2],[11.9,3.0],[12.2,4.8],[12.6,3.2],[13,2.8],[14,2.2],[15,1.7],[16.5,1.2],[18,0.9],[20,0.6],[22,0.45],[24,0.35],[26.5,0.3],[27,0.8],[27.6,0.5],[29,0.35],[31.6,0.3],[32,2.3],[32.4,1.0],[34,0.6],[36,0.4],[38,0.25],[41.2,0.2],[41.6,0.8],[42.3,0.5],[44,0.3],[46,0.2],[47.3,0.5],[47.9,1.2],[48.4,11.6],[48.8,5],[49.5,3.5],[50.5,3.2],[51.5,2.6],[52.5,2.1],[53.5,1.7],[54.5,1.4],[55.5,1.2],[57,0.9],[58.5,0.8],[60,0.8],[60.6,1.2],[61.5,1.0],[62.5,0.7],[64,0.5],[66,0.35],[68.4,0.3],[70,0.25],[73,0.2],[80,0.12],[88,0.1],[92.6,0.15],[93,1.2],[93.6,0.8],[95,0.5],[97,0.35],[100,0.25],[103,0.2],[106,0.15],[109.6,0.15],[110,3.5],[110.4,0.6],[112,0.35],[114.6,0.3],[115,0.7],[115.6,0.4],[118,0.2],[122,0.12],[130,0.08],[154.6,0.05],[155,1.0],[155.6,0.8],[157,0.6],[159,0.4],[161,0.3],[163,0.2],[165.6,0.15],[166,1.3],[166.6,1.0],[168,0.75],[170,0.5],[172,0.35],[175,0.2],[179,0.1],[184,0.05]];
const littleMenoModel = [[0,0.3],[4,0.25],[8.3,0.2],[8.75,1.0],[9.2,0.3],[11.6,0.2],[12,3.7],[12.4,1.5],[13.3,0.7],[14.5,0.5],[16.5,0.3],[18.5,0.15],[22,0.1],[25.6,0.1],[26,0.5],[26.6,1.8],[27.2,0.9],[28.5,0.6],[30,0.4],[31.6,0.3],[32,1.0],[32.6,0.5],[34,0.3],[38,0.2],[41.2,0.2],[41.6,1.6],[42.2,0.8],[43.5,0.4],[46.6,0.2],[47.4,0.6],[48,3.3],[48.5,2.0],[49.5,1.5],[50.5,2.0],[51,3.2],[51.6,2.2],[52.5,2.0],[53.2,3.5],[53.6,5.3],[54.1,3.8],[55,3.2],[56,2.9],[57,2.5],[58,2.2],[59,1.9],[60.3,1.6],[60.8,3.0],[61.4,2.6],[62.5,2.2],[63.5,1.9],[64.5,1.7],[65.5,1.5],[66.5,1.35],[67.5,1.25],[68.4,1.2],[68.8,2.0],[69.3,1.0],[70.5,0.8],[72.5,0.7],[73,4.0],[73.5,1.9],[74.5,1.7],[75.5,1.6],[76.5,1.7],[77.5,1.5],[79,1.2],[81,0.85],[83,0.6],[85,0.35],[87.6,0.2],[88,1.8],[88.5,0.9],[89.5,0.8],[90.3,1.3],[90.9,0.9],[92.3,0.8],[92.7,2.4],[93.2,1.3],[94.5,1.1],[96,0.9],[97.5,0.7],[99,0.6],[101,0.5],[103,0.45],[103.6,1.3],[104.3,0.9],[105.2,1.2],[105.9,0.9],[106.7,1.5],[107.4,1.1],[108.3,1.0],[109.2,1.0],[109.8,1.3],[110.3,1.9],[110.9,1.6],[111.7,1.7],[112.5,1.6],[113.2,1.9],[113.8,1.6],[114.9,1.5],[115.3,2.9],[115.9,1.7],[117,1.5],[118,1.3],[119,1.2],[120,1.15],[121.2,1.1],[121.6,2.9],[122.2,1.3],[123.2,1.15],[124.5,1.0],[126,0.9],[127.5,0.7],[129,0.5],[130.5,0.4],[132,0.35],[132.5,0.8],[133.1,0.4],[135.5,0.3],[136.4,0.6],[137,0.3],[140,0.2],[142.6,0.15],[143,0.5],[143.5,0.15],[147,0.08],[155.2,0.05],[155.6,2.6],[156.2,1.3],[157.5,1.1],[159,0.95],[160.5,0.8],[162,0.65],[163.5,0.5],[165,0.4],[165.6,0.35],[166,3.8],[166.6,2.4],[167.6,2.2],[168.6,2.0],[170,1.7],[171.5,1.45],[173,1.2],[175,0.9],[177,0.65],[179,0.45],[181,0.3],[184,0.15]];

const underwoodDaily = [[0,0.8],[5,0.7],[9,0.55],[11.2,0.5],[11.6,12],[12.2,6],[12.8,3.5],[13.5,2.5],[15,1.6],[17,1.1],[20,0.8],[25,0.6],[31.3,0.5],[31.7,1.5],[32.3,0.9],[34,0.6],[40,0.45],[41,0.6],[42,0.45],[47.6,0.4],[48.1,5],[48.4,16],[48.9,8],[49.6,4.5],[50.5,3],[52,2],[54,1.4],[56,1.1],[58,0.9],[60.4,0.8],[60.8,1.5],[61.5,1.0],[64,0.7],[68,0.6],[72.6,0.5],[73,1.8],[74,1.1],[76,0.7],[80,0.5],[88,0.4],[92.5,0.4],[92.9,2.5],[93.6,1.4],[95,0.9],[98,0.6],[102.4,0.6],[104,0.5],[109.9,0.4],[110.3,1.2],[111,0.7],[112.7,0.8],[114.6,0.7],[115,2.0],[115.7,1.3],[117.5,0.8],[120,0.6],[125,0.4],[130,0.3],[140,0.25],[155.2,0.2],[155.6,1.0],[156.5,0.6],[160,0.4],[165.6,0.3],[166,2.0],[167,1.4],[169,1.0],[172,0.7],[176,0.45],[180,0.3],[184,0.2]];
const underwoodQ15 = [[0,0.8],[5,0.7],[9,0.55],[11.2,0.5],[11.6,21.5],[12,6],[12.8,3.5],[13.5,2.5],[15,1.6],[17,1.1],[20,0.8],[25,0.6],[31.3,0.5],[31.7,4.9],[32.1,0.9],[34,0.6],[40,0.45],[41,0.6],[42,0.45],[47.6,0.4],[48.1,5],[48.4,19.5],[48.8,8],[49.6,4.5],[50.5,3],[52,2],[54,1.4],[56,1.1],[58,0.9],[60.4,0.8],[60.8,4.7],[61.2,1.0],[64,0.7],[68,0.6],[72.6,0.5],[73,1.8],[74,1.1],[76,0.7],[80,0.5],[88,0.4],[92.5,0.4],[92.9,6.3],[93.3,1.4],[95,0.9],[98,0.6],[102.4,0.6],[104,0.5],[109.9,0.4],[110.3,4.2],[110.7,0.7],[112.3,0.6],[112.7,1.8],[113.1,0.6],[114.6,0.7],[115,6.3],[115.4,1.3],[117.5,0.8],[120,0.6],[125,0.4],[130,0.3],[140,0.25],[155.2,0.2],[155.6,1.0],[156.5,0.6],[160,0.4],[165.6,0.3],[166,2.0],[167,1.4],[169,1.0],[172,0.7],[176,0.45],[180,0.3],[184,0.2]];
const underwoodModel = [[0,0.3],[5,0.3],[8,0.3],[8.4,2.2],[8.8,0.5],[11.2,0.2],[11.6,6],[12,2],[12.8,0.8],[14,0.5],[17,0.3],[25.6,0.2],[26,3.5],[26.5,1.2],[27.5,0.6],[29,0.4],[31.3,0.3],[31.7,1.5],[32.2,0.6],[34,0.3],[40.6,0.2],[41,2.7],[41.5,0.8],[43,0.4],[47.2,0.3],[47.6,3],[48.1,1.2],[49.6,1.0],[50,3.5],[50.5,1.2],[52,0.6],[53.1,0.5],[53.5,8.3],[54,3.5],[55,2.0],[56.5,1.2],[58,0.7],[60.4,0.5],[60.8,3.0],[61.3,1.2],[63,0.6],[67.6,0.3],[68,3.0],[68.5,1.0],[70,0.5],[72.6,0.4],[73,7.6],[73.5,2.6],[74.6,1.8],[76,1.2],[78,0.7],[81,0.4],[87.6,0.2],[88,2.7],[88.5,0.5],[90,0.4],[90.5,0.8],[91,0.3],[92.5,0.3],[92.9,4.0],[93.4,1.5],[95,0.7],[97,0.4],[102,0.3],[102.4,2.8],[102.9,1.2],[104,0.8],[106,0.5],[108.5,0.4],[109,1.0],[109.5,0.4],[110.6,0.4],[111,1.5],[111.5,0.6],[114.6,0.5],[115,4.5],[115.5,1.8],[117,1.0],[119,0.6],[121.6,0.4],[122,5.7],[122.5,1.8],[124,0.9],[125.6,0.6],[126,1.0],[126.5,0.5],[128,0.3],[132.1,0.2],[132.5,1.5],[133,0.4],[135,0.3],[136.5,0.5],[137,0.2],[143.2,0.1],[143.6,0.8],[144.1,0.1],[150,0.05],[155.2,0.05],[155.6,4.3],[156.1,2.0],[157.5,1.5],[159,1.1],[161,0.7],[163,0.45],[165.6,0.3],[166,6.0],[166.5,3.0],[168,2.5],[170,1.8],[172,1.2],[174,0.8],[176,0.5],[178,0.3],[181,0.2],[184,0.15]];

const wauwatosaDaily = [[0,5.5],[2,4.5],[4,3.8],[7,3],[9,2.5],[11.6,2],[12,36],[12.6,22],[13.3,15],[14,11],[15,7],[16,5],[17.5,3.5],[20,2.5],[25,2],[31.6,2],[32,9],[32.6,5],[34,3],[38,2],[41.2,2],[41.6,4],[42.5,2.5],[47,2.5],[48,5],[48.4,51],[48.9,40],[49.6,30],[50.5,25],[51.5,20],[53,14],[54.5,11],[56,8.5],[58,7],[60.3,6],[60.8,18],[61.5,11],[62.5,8],[64,6],[66,5],[68.4,4],[70,3.5],[73,4],[75,3],[78,2],[85,1.5],[93,3],[94,2],[100,1.5],[103,3],[104,2],[109.6,2],[110,8],[110.6,5],[111.4,4],[112,10],[112.6,5],[115,8],[116,4],[118,3],[121,2],[125,1],[140,0.8],[155,3],[156,1.5],[160,1],[165.6,1],[166,6],[167,4],[169,3],[172,2],[178,1],[184,0.5]];
const wauwatosaQ15 = [[0,5.5],[2,4.5],[4,3.8],[7,3],[9,2.5],[11.6,2],[12,57],[12.4,22],[13.3,15],[14,11],[15,7],[16,5],[17.5,3.5],[20,2.5],[25,2],[31.6,2],[32,17],[32.4,5],[34,3],[38,2],[41.2,2],[41.6,4],[42.5,2.5],[47,2.5],[48,5],[48.4,55],[48.8,40],[49.6,30],[50.5,25],[51.5,20],[53,14],[54.5,11],[56,8.5],[58,7],[60.3,6],[60.8,18],[61.5,11],[62.5,8],[64,6],[66,5],[68.4,4],[70,3.5],[73,4],[75,3],[78,2],[85,1.5],[93,3],[94,2],[100,1.5],[103,3],[104,2],[109.6,2],[110,17],[110.4,5],[111.4,4],[112,10],[112.6,5],[115,8],[116,4],[118,3],[121,2],[125,1],[140,0.8],[155,3],[156,1.5],[160,1],[165.6,1],[166,6],[167,4],[169,3],[172,2],[178,1],[184,0.5]];
const wauwatosaModel = [[0,3],[2,2.5],[4,2.0],[8.3,1.8],[8.75,8],[9.2,2.5],[11.6,1.5],[12,30],[12.4,10],[13,6],[13.8,5],[14.5,6],[15.2,3.5],[17,2],[20,1.2],[26.6,1],[27,13],[27.4,4],[28.5,2.5],[31.6,1.5],[32,8],[32.5,3.5],[34,2.5],[41.2,1.2],[41.6,12],[42.1,4],[43.5,2.5],[47,2],[47.6,8],[48,19],[48.5,9],[49.5,7],[50.1,10],[50.5,20],[51,10],[52,7],[53.2,8],[53.6,35.5],[54.1,22],[55,20],[56,15],[57,12],[58.5,9],[60.3,6],[60.8,19],[61.4,11],[62.5,8.5],[64,6.5],[65.5,5],[67,4],[68,3.5],[68.4,13],[68.9,5],[70,4],[72.6,3.5],[73,28.5],[73.5,11],[74.5,9],[76,8.5],[77.5,7],[79,5.5],[81,4],[83,3],[85,2],[87.6,1.2],[88,12],[88.5,4],[89.5,3],[90.3,6],[91,3.5],[92.6,3.5],[93,15],[93.5,8],[94.5,6],[96,4.5],[98,3.5],[100,2.5],[102.1,2],[102.5,10],[103,6],[104,5],[105.2,8],[105.8,5],[107.5,4.5],[109,4],[110.5,5],[111.4,8],[112,6],[113.5,5.5],[114.9,5.5],[115.3,18.5],[115.8,11],[117,9.5],[118.5,8],[120,7],[121.2,6.5],[121.6,21.5],[122.1,10],[123.2,8],[124.7,7],[126,6],[127,5],[128.5,4.2],[130,3.5],[132.1,2.5],[132.5,6],[133,3.2],[135,2.8],[136.4,3.5],[137,2.5],[140,1.8],[142.6,1.5],[143,3.5],[143.5,1.5],[147,1],[152,0.6],[154.9,0.5],[155.3,17.5],[155.8,9],[157.5,8],[159,6.5],[161,5],[163,3.8],[165.6,3],[166,25],[166.5,14],[167.6,13],[169,12],[170.5,10.5],[172,9],[174,7],[176,5],[178,3.5],[180,2.5],[182,1.5],[184,1]];

const wilsonDaily = [[0,0.4],[6,0.25],[11.6,0.2],[12,2.5],[12.6,1.2],[13.5,1.0],[14.3,1.5],[15,0.8],[17,0.4],[19,0.3],[25,0.2],[31.3,0.2],[31.7,1.2],[32.4,0.5],[35,0.25],[46.4,0.2],[46.8,1.5],[47.5,0.8],[48.3,0.8],[48.7,2.5],[49.4,1.5],[50,2],[50.7,1],[53.5,1.0],[55,0.7],[57,0.8],[61,1.2],[62,0.7],[65,0.4],[72.6,0.3],[73,2],[73.8,0.9],[76,0.4],[85,0.2],[92.5,0.2],[92.9,2],[93.6,0.8],[96,0.3],[102,0.2],[102.4,1.5],[103,0.6],[106,0.2],[109.9,0.2],[110.3,2],[111,0.6],[112.7,0.7],[114.6,0.3],[115,1.5],[115.8,0.5],[118,0.2],[130,0.1],[155.6,0.1],[156,1.0],[156.7,0.5],[160,0.3],[165.9,0.3],[166.3,1.5],[167,1.2],[169,0.6],[173,0.3],[178,0.2],[184,0.1]];
const wilsonQ15 = [[0,0.4],[6,0.25],[11.6,0.2],[12,8.5],[12.4,1.2],[13.5,1.0],[14.3,1.5],[15,0.8],[17,0.4],[19,0.3],[25,0.2],[31.3,0.2],[31.7,3.8],[32.1,0.5],[35,0.25],[46.4,0.2],[46.8,4],[47.2,0.8],[48.3,0.8],[48.7,5.3],[49.1,1.5],[50,2],[50.7,1],[53.5,1.0],[55,0.7],[57,0.8],[61,1.2],[62,0.7],[65,0.4],[72.6,0.3],[73,2],[73.8,0.9],[76,0.4],[85,0.2],[92.5,0.2],[92.9,6.2],[93.3,0.8],[96,0.3],[102,0.2],[102.4,5.1],[102.8,0.6],[106,0.2],[109.9,0.2],[110.3,5.9],[110.7,0.6],[112.3,0.5],[112.7,2.5],[113.1,0.4],[114.6,0.3],[115,11.6],[115.4,0.5],[118,0.2],[130,0.1],[143.2,0.1],[143.6,1.2],[144,0.1],[155.6,0.1],[156,3.5],[156.4,0.5],[160,0.3],[165.9,0.3],[166.3,7.6],[166.7,1.2],[169,0.6],[173,0.3],[178,0.2],[184,0.1]];
const wilsonModel = [[0,0.9],[3,0.6],[6,0.4],[8,0.35],[8.4,2.2],[8.9,0.6],[11.6,0.5],[12,7.5],[12.5,2.5],[13.3,1.2],[14.3,2.2],[14.8,1.0],[16,0.6],[19,0.8],[19.5,0.4],[22,0.2],[26.3,0.2],[26.7,3.1],[27.2,1.0],[29,0.5],[31.3,0.4],[31.7,1.2],[32.3,0.4],[35,0.3],[40.6,0.2],[41,2.5],[41.5,0.8],[43,0.4],[47.2,0.4],[47.6,2.5],[48.2,1.2],[49.6,1.0],[50,4.2],[50.6,1.5],[52,0.8],[53.1,0.6],[53.5,7.1],[54,4],[55,2],[56.5,1.2],[58,0.8],[60.6,0.6],[61,2],[61.6,0.8],[64,0.4],[67.6,0.3],[68,2.5],[68.5,0.6],[70,0.4],[72.6,0.3],[73,6.2],[73.5,2],[75,1],[77,0.6],[81,0.3],[87.6,0.15],[88,2.2],[88.5,0.4],[90,0.2],[92.5,0.2],[92.9,3.5],[93.4,1],[95,0.5],[102,0.2],[102.4,2.5],[102.9,0.6],[104,0.4],[106,0.2],[109.9,0.15],[110.3,2.0],[110.8,0.4],[112.7,0.3],[114.6,0.3],[115,3.7],[115.5,1],[117,0.5],[121.6,0.3],[122,5.0],[122.5,1.2],[124,0.6],[126.3,0.4],[126.7,1.3],[127.2,0.3],[132.1,0.2],[132.5,1.2],[133,0.5],[134,0.6],[134.5,0.2],[138,0.1],[143.2,0.1],[143.6,1.0],[144.1,0.1],[150,0.05],[155.6,0.05],[156,3.8],[156.5,0.8],[158,0.4],[165.9,0.3],[166.3,4.8],[166.8,1.8],[168.3,1.2],[170,0.8],[172,0.5],[174,0.4],[176,0.3],[178,0.2],[184,0.05]];

const kkDaily = [[0,1.2],[3,0.7],[6,0.35],[10.6,0.3],[11,5],[11.6,2],[12,6],[12.6,3],[13.3,3],[14.5,3],[15.2,1.5],[16,1.0],[18,0.6],[22,0.3],[31.6,0.3],[32,3],[32.6,1],[34,0.5],[38,0.3],[46.9,0.3],[47.3,2],[47.9,1.2],[48.4,8],[49,3],[49.7,2],[51,1.5],[53.2,1.5],[53.6,5],[54.2,2.5],[55.5,1.5],[58,0.8],[60.6,0.6],[61,3],[61.7,1],[64,0.5],[68,0.4],[68.4,2],[69,0.8],[72.6,0.5],[73,6],[73.6,2.5],[74.7,1],[77,0.6],[85,0.3],[92.6,0.3],[93,3],[93.7,1],[96,0.5],[102.1,0.4],[102.5,2],[103.2,0.6],[109.6,0.3],[110,3],[110.6,0.8],[111.4,0.3],[114.9,0.3],[115.3,10],[115.9,3],[117,1.5],[119,0.7],[125,0.3],[140,0.2],[165.6,0.2],[166,6],[166.7,2],[168.3,1],[172,0.5],[178,0.3],[184,0.1]];
const kkQ15 = [[0,1.2],[3,0.7],[6,0.35],[10.6,0.3],[11,5],[11.6,2],[12,18.5],[12.4,4],[13.3,3],[14.1,2.5],[14.5,8],[15,2],[16,1.0],[18,0.6],[22,0.3],[31.6,0.3],[32,10],[32.4,1],[34,0.5],[38,0.3],[46.9,0.3],[47.3,7],[47.8,1.5],[48.1,2],[48.4,10.5],[48.9,3],[49.7,2],[51,1.5],[53.2,1.5],[53.6,25],[54,3],[55.5,1.5],[58.6,0.8],[59,6],[59.4,0.8],[60.6,0.6],[61,8],[61.4,1],[64,0.5],[68,0.4],[68.4,7],[68.8,0.8],[72.6,0.5],[73,18.5],[73.4,2.5],[74.7,1],[77,0.6],[85,0.3],[92.6,0.3],[93,8.5],[93.4,1],[96,0.5],[102.1,0.4],[102.5,8],[102.9,0.6],[109.6,0.3],[110,13],[110.4,0.8],[112.1,0.3],[112.5,5],[112.9,0.3],[114.9,0.3],[115.3,28.5],[115.7,3],[117,1.5],[119,0.7],[125,0.3],[140,0.2],[165.6,0.2],[166,17.5],[166.4,2],[168.3,1],[172,0.5],[178,0.3],[184,0.1]];
const kkModel = [[0,1.5],[3,0.8],[6,0.4],[8.3,0.3],[8.75,3.7],[9.2,1],[11.6,0.8],[12,13],[12.4,4],[13.3,2.5],[14.1,2.0],[14.5,6],[15,2.5],[16,1.5],[18.6,1.0],[19,1.3],[19.5,0.5],[22,0.2],[26.6,0.2],[27,5.3],[27.5,1.5],[29,0.6],[31.6,0.4],[32,2.5],[32.5,0.7],[34,0.3],[41.2,0.2],[41.6,4.5],[42.1,1.3],[43.5,0.6],[46.9,0.5],[47.3,2.5],[47.9,2.0],[48.4,5],[49,3],[50.1,3],[50.5,7],[51,2.5],[53.2,2],[53.6,12.5],[54.1,5],[55,3],[56.5,1.5],[58,0.8],[60.6,0.5],[61,2.5],[61.6,0.8],[64,0.4],[68,0.3],[68.4,4],[68.9,1],[70,0.5],[72.6,0.4],[73,11],[73.5,3],[74.7,2],[76.2,1.5],[78,0.8],[81,0.4],[87.6,0.2],[88,3.8],[88.5,0.8],[90,0.4],[92.6,0.4],[93,6],[93.5,1.8],[95,0.9],[98,0.5],[102.1,0.4],[102.5,4],[103,1],[104.5,0.6],[111.6,0.3],[112,3],[112.5,0.7],[114.9,0.5],[115.3,9],[115.8,3],[117,1.5],[119,0.7],[121.2,0.5],[121.6,8.7],[122.1,2.5],[123.5,1.2],[125,0.7],[126.1,0.5],[126.5,1.5],[127,0.4],[132.1,0.2],[132.5,2],[133,0.4],[135.2,0.3],[135.6,0.7],[136.1,0.1],[142.6,0.1],[143,1.5],[143.5,0.1],[150,0.05],[155.2,0.05],[155.6,6],[156.1,1.5],[157.5,1.0],[160,0.5],[162,0.3],[165.6,0.3],[166,8],[166.5,3],[167.6,2.2],[169,1.6],[171,1.1],[173,1.0],[174.7,1.0],[176,0.7],[178,0.5],[181,0.3],[184,0.1]];

// ---------- build ----------
const dailySeries = [cedarDaily,cedarburgDaily,lincolnDaily,mkeDaily,menoFallsDaily,freistadtDaily,littleMenoDaily,underwoodDaily,wauwatosaDaily,wilsonDaily,kkDaily];
const q15Series = [cedarQ15,cedarburgQ15,lincolnQ15,mkeQ15,menoFallsQ15,freistadtQ15,littleMenoQ15,underwoodQ15,wauwatosaQ15,wilsonQ15,kkQ15];
const modelSeries = [cedarModel,cedarburgModel,lincolnModel,mkeModel,menoFallsModel,freistadtModel,littleMenoModel,underwoodModel,wauwatosaModel,wilsonModel,kkModel];

const W = 1127, H = 1420;
const colX = [[110,530],[662,1082]];
const rowTop = [81,303.5,526,748.5,971,1193.5];
const plotH = 137;
const BLUE = '#2424a4';
const FONT = 'Liberation Sans, Arial, Helvetica, sans-serif';
const LW = 1.8;

const traces = [];
const layout = {
  width: W, height: H,
  margin: {l:0,r:0,t:0,b:0},
  paper_bgcolor: '#fff', plot_bgcolor: '#fff',
  font: {family: FONT, color: '#1a1a1a', size: 17},
  hovermode: false,
  showlegend: true,
  legend: {
    x: 675/W, y: 1 - 1194/H, xanchor: 'left', yanchor: 'top',
    bordercolor: '#8c8c8c', borderwidth: 1.5, bgcolor: '#fff',
    font: {family: FONT, size: 30, color: '#000'},
    itemwidth: 52, tracegroupgap: 0
  },
  annotations: [],
  shapes: [{type:'rect', xref:'paper', yref:'paper', x0:5/W, x1:1121/W, y0:1-1415/H, y1:1-5/H, line:{color:'#000', width:1.5}}]
};

for (let i = 0; i < stationNames.length; i++) {
  const row = Math.floor(i/2), col = i % 2;
  const sfx = i === 0 ? '' : String(i+1);
  const [xa, xb] = colX[col];
  const top = rowTop[row], bot = top + plotH;
  const yticks = [];
  for (let v = 0; v <= yMax[i] + 1e-9; v += yTickStep[i]) yticks.push(v);

  layout['xaxis'+sfx] = {
    domain: [xa/W, xb/W], anchor: 'y'+sfx,
    range: [0,184], tickvals: monthStartDays, ticktext: monthLabels,
    ticks: 'inside', ticklen: 4, tickwidth: 1, tickcolor: '#777',
    showline: true, linecolor: '#777', linewidth: 1, mirror: 'ticks',
    showgrid: false, zeroline: false, fixedrange: true,
    ticklabelstandoff: 3,
    tickfont: {family: FONT, size: 17, color: '#1a1a1a'},
    title: {text: 'Time', standoff: 2, font: {family: FONT, size: 18, color: '#1a1a1a'}}
  };
  layout['yaxis'+sfx] = {
    domain: [1 - bot/H, 1 - top/H], anchor: 'x'+sfx,
    range: [0, yMax[i]], tickvals: yticks,
    ticks: 'inside', ticklen: 4, tickwidth: 1, tickcolor: '#777',
    showline: true, linecolor: '#777', linewidth: 1, mirror: 'ticks',
    showgrid: false, zeroline: false, fixedrange: true,
    ticklabelstandoff: 6,
    tickfont: {family: FONT, size: 17, color: '#1a1a1a'},
    title: {text: 'Discharge (m³/s)', standoff: 4, font: {family: FONT, size: 17, color: '#1a1a1a'}}
  };
  layout.annotations.push({
    xref:'paper', yref:'paper', x: (xa+xb)/2/W, y: 1 - (top-16)/H,
    xanchor:'center', yanchor:'middle', showarrow:false,
    text: stationNames[i], font: {family: FONT, size: 27.5, color: '#000', weight: 'bold'}
  });
  layout.annotations.push({
    xref:'paper', yref:'paper', x: (xb-36)/W, y: 1 - (bot+38)/H,
    xanchor:'center', yanchor:'middle', showarrow:false,
    text: '2014', font: {family: FONT, size: 17, color: '#1a1a1a'}
  });

  const sets = [
    {d: dailySeries[i], line: {color: BLUE, width: LW}},
    {d: q15Series[i], line: {color: BLUE, width: LW, dash: '6px,4px'}},
    {d: modelSeries[i], line: {color: '#111', width: LW}}
  ];
  sets.forEach((s, k) => {
    traces.push({
      type: 'scatter', mode: 'lines',
      x: s.d.map(p => p[0]), y: s.d.map(p => p[1]),
      xaxis: 'x'+sfx, yaxis: 'y'+sfx,
      name: seriesNames[k], legendgroup: seriesNames[k],
      showlegend: i === 0, line: s.line
    });
  });
}

Plotly.newPlot('chart', traces, layout, {staticPlot: true});
</script>
</body>
</html>
